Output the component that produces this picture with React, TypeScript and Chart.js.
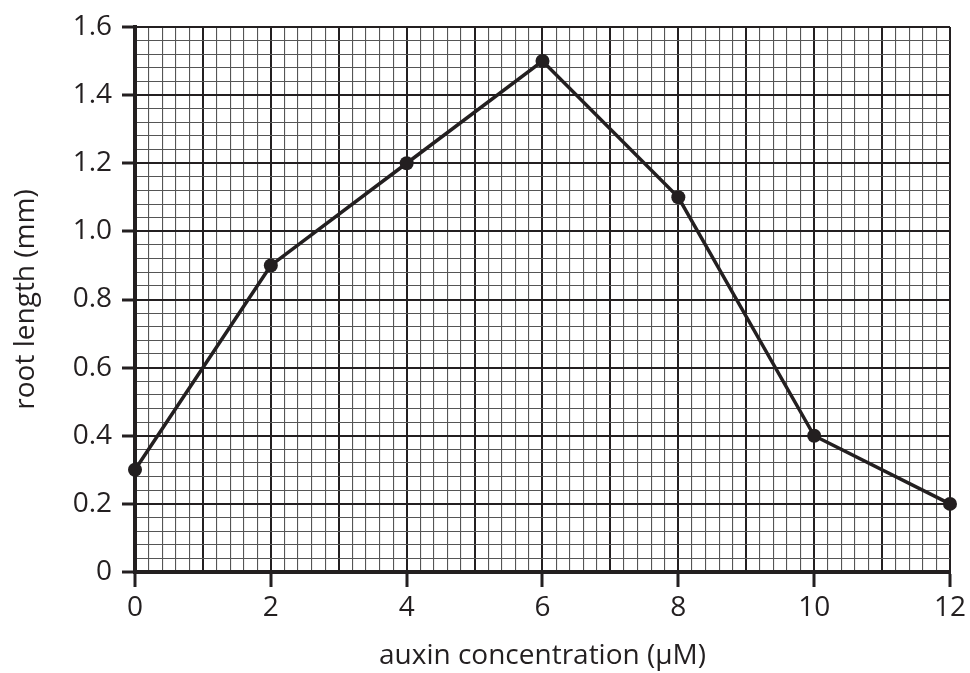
import React, { useEffect, useRef } from 'react';
import Chart from 'chart.js/auto';
import type { ChartConfiguration } from 'chart.js';

// auxin concentration (µM) vs root length (mm)
const concentrations = [0, 2, 4, 6, 8, 10, 12];
const rootLengths = [0.3, 0.9, 1.2, 1.5, 1.1, 0.4, 0.2];

const xLabelValues = [0, 2, 4, 6, 8, 10, 12];
const yLabelValues = [0, 0.2, 0.4, 0.6, 0.8, 1.0, 1.2, 1.4, 1.6];

const INK = '#231f20';
const MINOR = '#555555';
const FONT = "'Open Sans', 'DejaVu Sans', sans-serif";

const near = (v: number, list: number[]) => list.some((x) => Math.abs(x - v) < 1e-6);
const isInt = (v: number) => Math.abs(v - Math.round(v)) < 1e-6;
const isFifth = (v: number) => Math.abs(v * 5 - Math.round(v * 5)) < 1e-6;

const App: React.FC = () => {
  const canvasRef = useRef<HTMLCanvasElement>(null);
  const chartRef = useRef<Chart | null>(null);

  useEffect(() => {
    if (!canvasRef.current) return;
    const ctx = canvasRef.current.getContext('2d');
    if (!ctx) return;

    const config: ChartConfiguration<'line'> = {
      type: 'line',
      data: {
        datasets: [
          {
            data: concentrations.map((x, i) => ({ x, y: rootLengths[i] })),
            borderColor: INK,
            backgroundColor: INK,
            borderWidth: 3.5,
            pointRadius: 7,
            pointBackgroundColor: INK,
            pointBorderWidth: 0,
            tension: 0,
            clip: false as any,
          },
        ],
      },
      options: {
        responsive: false,
        animation: false,
        layout: { padding: { top: 27, right: 18, bottom: 0, left: 0 } },
        plugins: {
          legend: { display: false },
          tooltip: { enabled: false },
        },
        scales: {
          x: {
            type: 'linear',
            min: 0,
            max: 12,
            afterFit: (scale: any) => {
              scale.height = 101;
            },
            ticks: {
              stepSize: 0.2,
              autoSkip: false,
              maxRotation: 0,
              padding: 4,
              color: INK,
              font: { family: FONT, size: 28 },
              callback: (v: any) => (near(Number(v), xLabelValues) ? String(Math.round(Number(v))) : ''),
            },
            grid: {
              drawTicks: true,
              tickLength: 15,
              color: (c: any) => (isInt(c.tick.value) ? INK : MINOR),
              lineWidth: (c: any) => (isInt(c.tick.value) ? 2 : 1.1),
              tickColor: (c: any) => (near(c.tick.value, xLabelValues) ? INK : 'rgba(0,0,0,0)'),
              tickWidth: 3,
            },
            border: { display: true, color: INK, width: 4 },
            title: {
              display: true,
              text: 'auxin concentration (\u03bcM)',
              color: INK,
              font: { family: FONT, size: 28 },
              padding: { top: 0, bottom: 0 },
            },
          },
          y: {
            type: 'linear',
            min: 0,
            max: 1.6,
            afterFit: (scale: any) => {
              scale.width = 135;
            },
            ticks: {
              stepSize: 0.04,
              autoSkip: false,
              padding: 10,
              color: INK,
              font: { family: FONT, size: 28 },
              callback: (v: any) => {
                const n = Number(v);
                if (!near(n, yLabelValues)) return '';
                return Math.abs(n) < 1e-6 ? '0' : n.toFixed(1);
              },
            },
            grid: {
              drawTicks: true,
              tickLength: 13,
              color: (c: any) => (isFifth(c.tick.value) ? INK : MINOR),
              lineWidth: (c: any) => (isFifth(c.tick.value) ? 2 : 1.1),
              tickColor: (c: any) => (near(c.tick.value, yLabelValues) ? INK : 'rgba(0,0,0,0)'),
              tickWidth: 3,
            },
            border: { display: true, color: INK, width: 4 },
            title: {
              display: true,
              text: 'root length (mm)',
              color: INK,
              font: { family: FONT, size: 28 },
              padding: { top: 9, bottom: 0 },
            },
          },
        },
      },
    };

    chartRef.current = new Chart(ctx, config);

    return () => {
      if (chartRef.current) {
        chartRef.current.destroy();
        chartRef.current = null;
      }
    };
  }, []);

  return (
    <div style={{ position: 'fixed', left: 0, top: 0, width: 970, height: 673, background: '#fff' }}>
      <canvas ref={canvasRef} width={970} height={673} style={{ display: 'block' }}></canvas>
    </div>
  );
};

export default App;
